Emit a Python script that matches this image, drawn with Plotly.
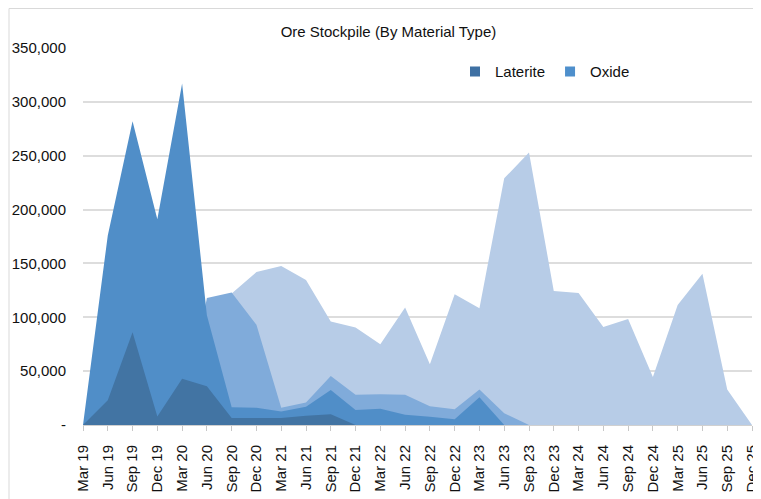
import plotly.graph_objects as go

quarters = ["Mar 19", "Jun 19", "Sep 19", "Dec 19", "Mar 20", "Jun 20", "Sep 20", "Dec 20",
            "Mar 21", "Jun 21", "Sep 21", "Dec 21", "Mar 22", "Jun 22", "Sep 22", "Dec 22",
            "Mar 23", "Jun 23", "Sep 23", "Dec 23", "Mar 24", "Jun 24", "Sep 24", "Dec 24",
            "Mar 25", "Jun 25", "Sep 25", "Dec 25"]

laterite = [0, 23000, 86000, 8000, 43000, 36000, 6500, 6500, 6500, 8500, 10000, 0,
            0, 0, 0, 0, 0, 0, 0, 0, 0, 0, 0, 0, 0, 0, 0, 0]

oxide = [0, 176000, 282000, 191000, 317000, 102000, 16500, 16000, 12500, 17000, 32500, 14000,
         15000, 9500, 7700, 5300, 25700, 0, 0, 0, 0, 0, 0, 0, 0, 0, 0, 0]

laterite_other = [0, 0, 0, 0, 0, 118000, 123000, 93000, 16000, 21000, 45500, 28000,
                  28500, 28000, 17500, 14600, 33000, 11000, 0, 0, 0, 0, 0, 0, 0, 0, 0, 0]

oxide_other = [0, 0, 0, 0, 0, 0, 122000, 142000, 147500, 134500, 96000, 90500,
               75000, 109000, 56500, 121500, 108500, 229000, 253000, 124500, 122500, 91000,
               98500, 44500, 111500, 140500, 33000, 0]

y_ticks = [0, 50000, 100000, 150000, 200000, 250000, 300000, 350000]
y_tick_text = ["-", "50,000", "100,000", "150,000", "200,000", "250,000", "300,000", "350,000"]

c_light = "rgb(183,204,231)"
c_midlight = "rgb(128,171,218)"
c_mid = "rgb(80,142,200)"
c_dark = "rgb(66,116,163)"

fig = go.Figure()
for vals, col in [(oxide_other, c_light), (laterite_other, c_midlight), (oxide, c_mid), (laterite, c_dark)]:
    fig.add_trace(go.Scatter(x=quarters, y=vals, mode="none", fill="tozeroy",
                             fillcolor=col, showlegend=False, hoverinfo="x+y"))

# legend entries
fig.add_trace(go.Scatter(x=[None], y=[None], mode="markers", name="Laterite",
                         marker=dict(symbol="square", size=10, color="rgb(62,112,163)")))
fig.add_trace(go.Scatter(x=[None], y=[None], mode="markers", name="Oxide",
                         marker=dict(symbol="square", size=10, color="rgb(78,143,204)")))

font_family = "Liberation Sans, Arial, sans-serif"

W, H = 753, 491
L, R, T, B = 75, 9, 40, 74
pw, ph = W - L - R, H - T - B

fig.update_layout(
    width=W, height=H,
    margin=dict(l=L, r=R, t=T, b=B, autoexpand=False),
    paper_bgcolor="white", plot_bgcolor="white",
    font=dict(family=font_family, size=15, color="#111111"),
    title=dict(text="Ore Stockpile (By Material Type)", x=380.5 / W, xanchor="center",
               y=1 - 24 / H, yanchor="middle", xref="container", yref="container",
               font=dict(size=15, color="#111111")),
    legend=dict(orientation="h", x=(455 - 83) / pw, y=(ph - (71.7 - 48)) / ph,
                xanchor="left", yanchor="middle",
                bgcolor="rgba(0,0,0,0)", font=dict(size=15, color="#111111"),
                itemwidth=30, tracegroupgap=0),
    xaxis=dict(type="category", range=[0, 27], tickangle=-90, showgrid=False,
               showline=True, linecolor="#D0D0D0", linewidth=1, automargin=False,
               ticks="outside", ticklen=5, tickcolor="#C8C8C8",
               tickfont=dict(size=15), ticklabelstandoff=8, ticklabeloverflow="allow"),
    yaxis=dict(range=[0, 350000], tickvals=y_ticks, ticktext=y_tick_text, automargin=False,
               showgrid=True, gridcolor="#DDDDDD", gridwidth=1.5,
               zeroline=False, showline=False, ticks="",
               tickfont=dict(size=15), ticklabelstandoff=16),
    shapes=[dict(type="rect", xref="paper", yref="paper",
                 x0=(1 - L) / pw, x1=(W + 10 - L) / pw,
                 y0=-(B + 10) / ph, y1=(ph + T - 0.5) / ph,
                 line=dict(color="#D9D9D9", width=1), fillcolor="rgba(0,0,0,0)", layer="below")],
)

fig.write_html(
    "out.html",
    post_script="document.documentElement.style.overflow='hidden';document.body.style.overflow='hidden';",
)
